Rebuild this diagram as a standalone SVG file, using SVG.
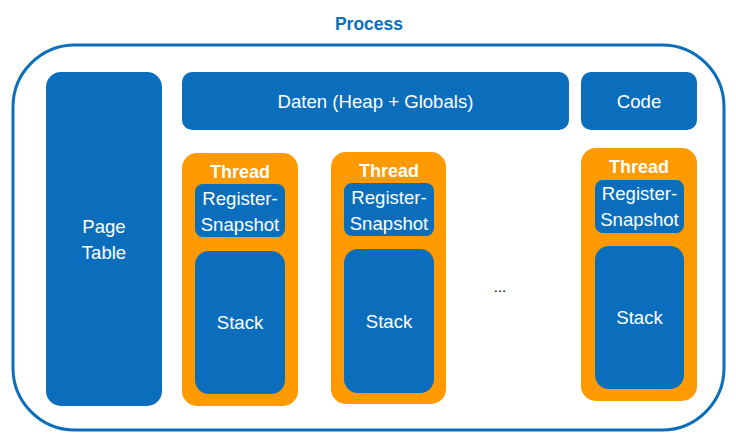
<svg xmlns="http://www.w3.org/2000/svg" width="736" height="441" viewBox="0 0 736 441">
<style>
.blue{fill:#0A6EBD}
.orange{fill:#FF9A00}
.t{font-family:"Liberation Sans",Arial,sans-serif;font-size:18.6px;fill:#fff;text-anchor:middle}
.b{font-weight:bold;font-size:18px}
</style>
<rect width="736" height="441" fill="#fff"/>
<g id="process">
<rect x="13" y="45" width="711" height="385" rx="62" ry="62" fill="none" stroke="#0A6EBD" stroke-width="3"/>
<text x="369" y="30" class="t b" style="font-size:17.5px;fill:#0A6EBD">Process</text>
</g>
<g id="pagetable">
<rect class="blue" x="46" y="72" width="116" height="334" rx="15"/>
<text class="t" x="104" y="233">Page</text>
<text class="t" x="104" y="259">Table</text>
</g>
<g id="daten">
<rect class="blue" x="182" y="72" width="387" height="58" rx="10"/>
<text class="t" x="375.5" y="108">Daten (Heap + Globals)</text>
</g>
<g id="code">
<rect class="blue" x="581" y="72" width="116" height="58" rx="10"/>
<text class="t" x="639" y="108">Code</text>
</g>
<g id="thread1">
<rect class="orange" x="182" y="153" width="116" height="253" rx="15"/>
<text class="t b" x="240" y="178">Thread</text>
<rect class="blue" x="195" y="184" width="90" height="53" rx="8"/>
<text class="t" x="240" y="205">Register-</text>
<text class="t" x="240" y="231">Snapshot</text>
<rect class="blue" x="195" y="251" width="90" height="143" rx="14"/>
<text class="t" x="240" y="329">Stack</text>
</g>
<g id="thread2">
<rect class="orange" x="331" y="152" width="115" height="252" rx="15"/>
<text class="t b" x="389" y="177">Thread</text>
<rect class="blue" x="344" y="183" width="90" height="53" rx="8"/>
<text class="t" x="389" y="204">Register-</text>
<text class="t" x="389" y="230">Snapshot</text>
<rect class="blue" x="344" y="249" width="90" height="144" rx="14"/>
<text class="t" x="389" y="328">Stack</text>
</g>
<g id="ellipsis">
<text x="500" y="292" style="font-family:'Liberation Sans',Arial,sans-serif;font-size:15px;fill:#000;text-anchor:middle">...</text>
</g>
<g id="thread3">
<rect class="orange" x="581" y="148" width="116" height="253" rx="15"/>
<text class="t b" x="639" y="173">Thread</text>
<rect class="blue" x="595" y="180" width="89" height="53" rx="8"/>
<text class="t" x="639.5" y="200">Register-</text>
<text class="t" x="639.5" y="226">Snapshot</text>
<rect class="blue" x="595" y="246" width="89" height="143" rx="14"/>
<text class="t" x="639.5" y="324">Stack</text>
</g>
<g id="connectors"></g>
</svg>
